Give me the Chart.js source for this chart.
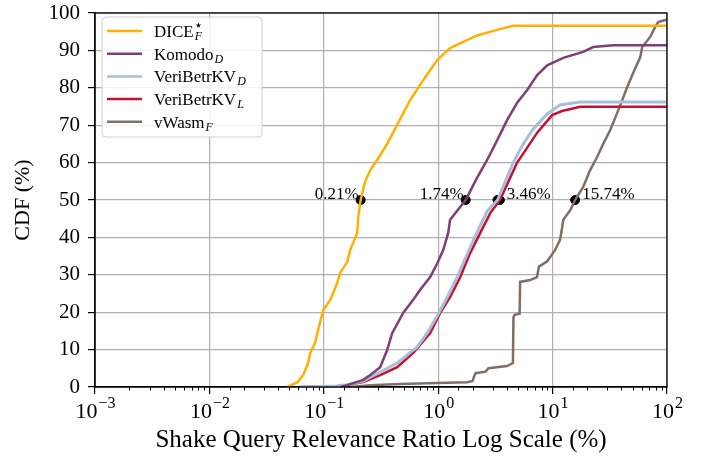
<!DOCTYPE html>
<html>
<head>
<meta charset="utf-8">
<script src="https://cdn.jsdelivr.net/npm/chart.js@4.4.1/dist/chart.umd.min.js"></script>
<style>
  html, body { margin: 0; padding: 0; background: #fff; }
</style>
</head>
<body>
<canvas id="cdfChart" width="713" height="460"></canvas>
<script>
// CDF curves, x in % (log scale), y in % of queries
const diceX = [0.048, 0.059, 0.066, 0.073, 0.076, 0.084, 0.089, 0.099, 0.114, 0.131, 0.139, 0.160, 0.170, 0.196, 0.200, 0.21, 0.23, 0.255, 0.293, 0.358, 0.447, 0.569, 0.739, 0.98, 1.27, 2.19, 3.28, 4.53, 100];
const diceY = [0, 1.3, 3.2, 6.4, 9.1, 11.8, 15.2, 20.6, 23.3, 27.8, 30.5, 33.4, 36.6, 41.2, 45.5, 50, 55, 58, 60.7, 65, 70.6, 76.7, 82, 87.4, 90.6, 94, 95.5, 96.6, 96.6];

const komodoX = [0.14, 0.16, 0.221, 0.255, 0.311, 0.358, 0.396, 0.494, 0.604, 0.696, 0.851, 0.98, 1.106, 1.223, 1.27, 1.74, 2.19, 2.68, 3.28, 4.01, 4.9, 6.0, 7.33, 8.97, 12.4, 18.5, 22.6, 33.9, 100];
const komodoY = [0, 0.5, 1.9, 3.2, 5.3, 9.9, 14.4, 19.8, 23.3, 26, 29.4, 33, 36.6, 41.2, 44.7, 50, 56, 60.7, 66, 71.4, 76, 79.4, 83.4, 86, 88, 89.6, 90.9, 91.4, 91.4];

const veriDX = [0.062, 0.131, 0.16, 0.221, 0.311, 0.438, 0.655, 0.80, 0.98, 1.2, 1.47, 1.79, 2.19, 2.68, 3.3, 4.53, 5.53, 6.77, 8.97, 11.6, 17.4, 100];
const veriDY = [0, 0.3, 0.6, 1.6, 4, 6.4, 10.7, 14.4, 19, 24, 29.5, 35.5, 41.5, 47, 50, 60, 65, 69, 73, 75.4, 76.2, 76.2];

const veriLX = [0.062, 0.131, 0.16, 0.221, 0.311, 0.438, 0.605, 0.851, 1.04, 1.27, 1.56, 1.90, 2.33, 2.85, 3.46, 4.9, 6.0, 7.33, 9.92, 12.1, 17.4, 100];
const veriLY = [0, 0.3, 0.5, 1.3, 3.2, 5.3, 9.1, 14.4, 19.8, 24, 29.4, 35.8, 41.2, 46.5, 50, 60, 64, 68, 72.7, 73.8, 74.9, 74.9];

const wasmX = [0.17, 0.255, 0.466, 0.98, 1.79, 2.0, 2.05, 2.12, 2.6, 2.75, 4.0, 4.5, 4.55, 4.65, 5.15, 5.2, 6.37, 7.3, 7.6, 8.97, 10.5, 11.6, 12.1, 12.4, 14.3, 15.74, 18.5, 21.3, 24.5, 27.7, 31.9, 36.7, 40.6, 44.9, 50.7, 58.4, 60.7, 71.3, 78.9, 83.8, 96.4, 100];
const wasmY = [0, 0.5, 0.8, 1.1, 1.3, 1.6, 2.7, 3.7, 4.1, 5.0, 5.6, 6.4, 18.7, 19.3, 19.6, 28.1, 28.6, 29.4, 32.2, 33.6, 36.6, 39.3, 42.5, 44.7, 47.3, 50, 53.5, 58, 61.5, 65, 68.7, 73.3, 76.7, 80.2, 84, 88.2, 90.9, 93.6, 96.3, 97.6, 98.1, 98.1];

// median markers
const markerX = [0.21, 1.74, 3.3, 3.46, 15.74];
const markerY = [50, 50, 50, 50, 50];
const markerLabels = ['0.21%', '1.74%', '', '3.46%', '15.74%'];

// legend names: [base, subscript, superscript]
const seriesNames = [['DICE', 'F', '\u22C6'], ['Komodo', 'D', ''], ['VeriBetrKV', 'D', ''], ['VeriBetrKV', 'L', ''], ['vWasm', 'F', '']];
const seriesColors = ['#FFB000', '#7E3F76', '#A6BFDC', '#C8102E', '#7F6F66'];

const xMin = 0.001;
const xMax = 100;

const SERIF = '"Liberation Serif", "DejaVu Serif", serif';

function toPoints(xs, ys) {
    return xs.map((x, i) => ({ x: x, y: ys[i] }));
}

function isDecade(v) {
    const l = Math.log10(v);
    return Math.abs(l - Math.round(l)) < 1e-6;
}

const curves = [
    [diceX, diceY], [komodoX, komodoY], [veriDX, veriDY], [veriLX, veriLY], [wasmX, wasmY]
];

const datasets = curves.map((c, i) => ({
    label: seriesNames[i].join(''),
    data: toPoints(c[0], c[1]),
    borderColor: seriesColors[i],
    backgroundColor: seriesColors[i],
    borderWidth: i === 2 ? 3 : 2.5,
    showLine: true,
    pointRadius: 0,
    tension: 0
}));

datasets.push({
    label: 'markers',
    data: toPoints(markerX, markerY),
    borderColor: '#000',
    backgroundColor: '#000',
    pointRadius: 4.5,
    showLine: false
});

// extra drawing: box, minor ticks, power-of-ten labels, marker text, legend
const decorations = {
    id: 'decorations',
    afterDatasetsDraw(chart) {
        const ctx = chart.ctx;
        const area = chart.chartArea;
        const xs = chart.scales.x;

        ctx.save();
        ctx.strokeStyle = '#000';
        ctx.lineWidth = 1.3;
        ctx.strokeRect(area.left, area.top, area.right - area.left, area.bottom - area.top);

        // minor ticks
        ctx.lineWidth = 1;
        xs.ticks.forEach(t => {
            if (isDecade(t.value)) return;
            const px = Math.round(xs.getPixelForValue(t.value)) + 0.5;
            ctx.beginPath();
            ctx.moveTo(px, area.bottom);
            ctx.lineTo(px, area.bottom + 3.5);
            ctx.stroke();
        });

        // decade labels 10^n
        ctx.fillStyle = '#000';
        ctx.textBaseline = 'alphabetic';
        xs.ticks.forEach(t => {
            if (!isDecade(t.value)) return;
            const px = xs.getPixelForValue(t.value);
            const exp = String(Math.round(Math.log10(t.value))).replace('-', '\u2212');
            ctx.font = '22px ' + SERIF;
            const wb = ctx.measureText('10').width;
            ctx.font = '16px ' + SERIF;
            const we = ctx.measureText(exp).width;
            const x0 = px - (wb + we) / 2;
            ctx.font = '22px ' + SERIF;
            ctx.textAlign = 'left';
            ctx.fillText('10', x0, area.bottom + 31);
            ctx.font = '16px ' + SERIF;
            ctx.fillText(exp, x0 + wb + 1, area.bottom + 21);
        });

        // marker labels
        const meta = chart.getDatasetMeta(5);
        ctx.font = '17px ' + SERIF;
        meta.data.forEach((pt, i) => {
            const txt = markerLabels[i];
            if (!txt) return;
            if (i < 2) {
                ctx.textAlign = 'right';
                ctx.fillText(txt, pt.x - 2, pt.y - 1);
            } else {
                ctx.textAlign = 'left';
                ctx.fillText(txt, pt.x + 7, pt.y - 1);
            }
        });

        // legend
        const lx = area.left + 7, ly = area.top + 4, lw = 160, lh = 120;
        ctx.beginPath();
        ctx.roundRect(lx, ly, lw, lh, 4);
        ctx.fillStyle = 'rgba(255,255,255,0.85)';
        ctx.fill();
        ctx.strokeStyle = '#d0d0d0';
        ctx.lineWidth = 1;
        ctx.stroke();

        seriesNames.forEach((n, i) => {
            const y = ly + 14 + i * 22.7;
            ctx.strokeStyle = seriesColors[i];
            ctx.lineWidth = 2.5;
            ctx.beginPath();
            ctx.moveTo(lx + 5, y);
            ctx.lineTo(lx + 40, y);
            ctx.stroke();

            ctx.fillStyle = '#000';
            ctx.textAlign = 'left';
            ctx.font = '17px ' + SERIF;
            ctx.fillText(n[0], lx + 52, y + 6);
            const w = ctx.measureText(n[0]).width;
            ctx.font = 'italic 12px ' + SERIF;
            ctx.fillText(n[1], lx + 52 + w + 1, y + 9);
            if (n[2]) {
                ctx.font = '15px "DejaVu Sans", sans-serif';
                ctx.fillText(n[2], lx + 52 + w, y - 1);
            }
        });
        ctx.restore();
    }
};

const chart = new Chart(document.getElementById('cdfChart'), {
    type: 'scatter',
    data: { datasets: datasets },
    options: {
        responsive: false,
        animation: false,
        layout: { padding: { top: 13, right: 46, left: 0, bottom: 0 } },
        plugins: {
            legend: { display: false },
            tooltip: { enabled: false }
        },
        scales: {
            x: {
                type: 'logarithmic',
                min: xMin,
                max: xMax,
                afterFit: (s) => { s.height = 73; },
                ticks: { display: false, autoSkip: false },
                grid: {
                    color: (c) => (c.tick && isDecade(c.tick.value)) ? '#b0b0b0' : 'rgba(0,0,0,0)',
                    tickColor: (c) => (c.tick && isDecade(c.tick.value)) ? '#000' : 'rgba(0,0,0,0)',
                    lineWidth: 1.2,
                    tickLength: 7
                },
                border: { color: '#000', width: 1.3 },
                title: {
                    display: true,
                    text: 'Shake Query Relevance Ratio Log Scale (%)',
                    color: '#000',
                    font: { family: SERIF, size: 25 },
                    padding: { top: 0, bottom: 5 }
                }
            },
            y: {
                min: 0,
                max: 100,
                afterFit: (s) => { s.width = 95; },
                ticks: {
                    stepSize: 10,
                    color: '#000',
                    padding: 8,
                    font: { family: SERIF, size: 21, lineHeight: 0.4 }
                },
                grid: {
                    color: '#b0b0b0',
                    lineWidth: 1.2,
                    tickColor: '#000',
                    tickLength: 7
                },
                border: { color: '#000', width: 1.3 },
                title: {
                    display: true,
                    text: 'CDF (%)',
                    color: '#000',
                    font: { family: SERIF, size: 22 },
                    padding: { top: 10, bottom: 0 }
                }
            }
        }
    },
    plugins: [decorations]
});
</script>
</body>
</html>
